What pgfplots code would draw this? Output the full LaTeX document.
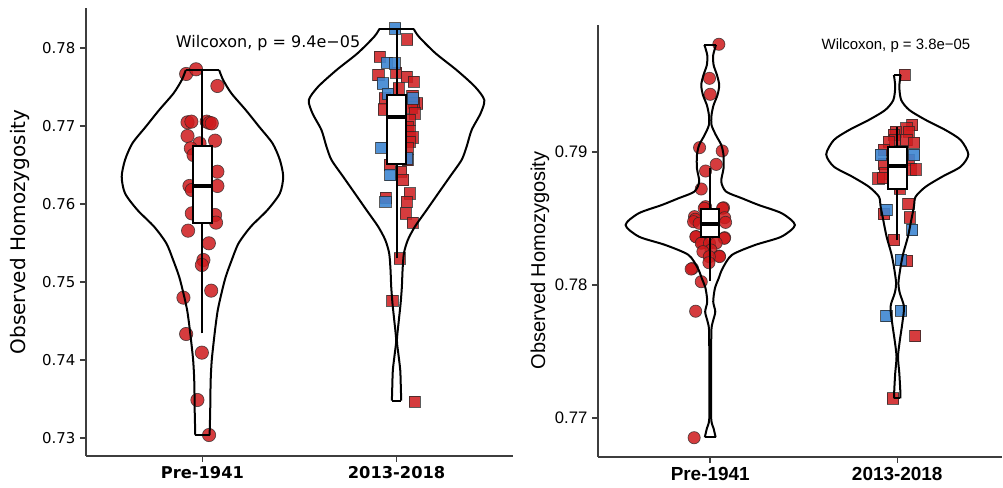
\documentclass[border=0pt]{standalone}
\usepackage{fontspec}
\setmainfont{Liberation Sans}
\newfontfamily\dejavu{DejaVu Sans}
\usepackage{pgfplots}
\usepackage{pgfplotstable}
\pgfplotsset{compat=1.18}

\definecolor{ptred}{RGB}{206,26,28}
\definecolor{ptblue}{RGB}{62,134,210}
\definecolor{axgray}{RGB}{62,62,62}

% ---------------- violin outlines: y value, half width (category units)
\pgfplotstableread{
y w
0.73038 0.037
0.73359 0.040
0.73573 0.041
0.73786 0.043
0.74000 0.048
0.74214 0.057
0.74427 0.067
0.74641 0.079
0.74855 0.098
0.75068 0.120
0.75282 0.151
0.75496 0.186
0.75709 0.249
0.75923 0.335
0.76137 0.399
0.76350 0.416
0.76564 0.399
0.76778 0.361
0.76991 0.292
0.77205 0.223
0.77419 0.149
0.77590 0.1065
0.77718 0.0859
}\vLa
\pgfplotstableread{
y w
0.73479 0.024
0.73658 0.022
0.73872 0.019
0.74086 0.009
0.74256 0.002
0.74513 0.012
0.74727 0.021
0.74940 0.0275
0.75154 0.031
0.75368 0.038
0.75538 0.058
0.75709 0.0945
0.75923 0.155
0.76137 0.215
0.76350 0.275
0.76564 0.335
0.76735 0.361
0.76949 0.387
0.77162 0.433
0.77333 0.452
0.77504 0.404
0.77718 0.309
0.77932 0.201
0.78145 0.115
0.78244 0.0885
}\vLb
\pgfplotstableread{
y w
0.76855 0.029
0.76922 0.018
0.76997 0.005
0.77300 0.005
0.77649 0.006
0.77724 0.014
0.77799 0.027
0.77875 0.016
0.77975 0.025
0.78050 0.045
0.78125 0.066
0.78226 0.116
0.78301 0.240
0.78363 0.380
0.78451 0.453
0.78539 0.383
0.78602 0.258
0.78652 0.170
0.78702 0.085
0.78777 0.059
0.78877 0.071
0.78977 0.071
0.79053 0.059
0.79128 0.030
0.79203 0.007
0.79278 0.007
0.79353 0.018
0.79429 0.039
0.79504 0.048
0.79579 0.036
0.79654 0.018
0.79729 0.016
0.79805 0.031
}\vRa
\pgfplotstableread{
y w
0.77148 0.017
0.77211 0.016
0.77336 0.011
0.77461 0.004
0.77586 0.014
0.77712 0.027
0.77837 0.036
0.77937 0.014
0.78013 0.006
0.78138 0.018
0.78238 0.032
0.78363 0.057
0.78489 0.075
0.78589 0.089
0.78664 0.098
0.78739 0.152
0.78815 0.241
0.78890 0.339
0.78982 0.380
0.79090 0.339
0.79165 0.258
0.79241 0.152
0.79316 0.064
0.79391 0.021
0.79491 0.011
0.79579 0.018
}\vRb

% ---------------- samples: jitter offset, observed homozygosity
\pgfplotstableread{
dx v
-0.084 0.77667
-0.033 0.77727
0.077 0.77513
-0.077 0.77047
-0.057 0.77056
0.022 0.77056
0.036 0.77040
0.048 0.77034
-0.077 0.76872
0.065 0.76812
-0.015 0.76778
-0.060 0.76714
-0.046 0.76628
0.077 0.76414
-0.067 0.76231
0.077 0.76231
-0.055 0.76179
-0.055 0.75880
0.065 0.75859
0.070 0.75761
-0.074 0.75658
0.033 0.75496
0.005 0.75282
-0.003 0.75218
0.045 0.74889
-0.098 0.74799
-0.084 0.74333
-0.003 0.74094
-0.026 0.73487
0.034 0.73038
}\pLa
\pgfplotstableread{
dx v
0.055 0.78111
-0.088 0.77889
-0.002 0.77684
-0.094 0.77654
0.053 0.77632
0.088 0.77568
0.012 0.77482
0.081 0.77385
-0.062 0.77355
0.105 0.77291
0.090 0.77300
0.076 0.77239
-0.067 0.77214
0.093 0.77162
0.067 0.77077
0.058 0.76991
0.066 0.76940
0.081 0.76855
0.067 0.76799
0.058 0.76714
0.058 0.76564
-0.036 0.76500
0.024 0.76414
0.033 0.76308
0.067 0.76137
-0.057 0.76081
0.053 0.76030
0.046 0.75880
0.084 0.75761
0.015 0.75303
-0.022 0.74760
0.093 0.73466
}\pLbR
\pgfplotstableread{
dx v
-0.007 0.78252
-0.050 0.77812
-0.010 0.77803
-0.070 0.77547
-0.045 0.77410
0.084 0.77355
-0.079 0.76722
0.055 0.76585
-0.033 0.76372
-0.058 0.76030
}\pLbB
\pgfplotstableread{
dx v
0.046 0.79810
-0.004 0.79554
0.000 0.79434
-0.057 0.79033
0.064 0.79008
0.032 0.78907
-0.025 0.78857
-0.048 0.78722
-0.025 0.78589
0.071 0.78581
-0.032 0.78577
0.066 0.78577
-0.084 0.78514
0.077 0.78506
-0.080 0.78494
-0.089 0.78476
0.082 0.78471
-0.059 0.78464
-0.075 0.78364
0.077 0.78356
-0.077 0.78363
0.075 0.78351
-0.041 0.78318
-0.048 0.78314
-0.004 0.78314
0.032 0.78316
0.004 0.78263
-0.039 0.78251
0.048 0.78218
0.050 0.78214
-0.005 0.78213
-0.007 0.78168
-0.095 0.78125
-0.102 0.78120
-0.048 0.78025
-0.078 0.77803
-0.086 0.76852
}\pRa
\pgfplotstableread{
dx v
0.039 0.79579
0.080 0.79203
0.048 0.79178
0.062 0.79153
-0.009 0.79153
-0.018 0.79128
-0.012 0.79090
-0.045 0.79078
0.048 0.79090
0.089 0.79070
-0.071 0.79015
0.062 0.78940
0.071 0.78870
0.098 0.78870
-0.071 0.78910
-0.066 0.78840
-0.101 0.78802
-0.076 0.78805
0.012 0.78727
0.059 0.78609
-0.071 0.78534
0.066 0.78509
-0.018 0.78338
0.053 0.78180
0.096 0.77617
-0.023 0.77148
}\pRbR
\pgfplotstableread{
dx v
-0.089 0.78977
0.089 0.78977
-0.059 0.78564
0.080 0.78414
0.020 0.78188
0.020 0.77807
-0.059 0.77767
}\pRbB

\pgfplotsset{
  panel/.style={
    scale only axis, clip=false, clip marker paths=true,
    axis x line*=bottom, axis y line*=left,
    axis line style={axgray, line width=1.3pt, -},
    tick style={axgray, line width=1.1pt},
    tick align=outside, major tick length=4.5pt,
    xtick={1,2}, xticklabels={Pre-1941,2013-2018},
  },
  vio/.style={black, line width=1.5pt, smooth, tension=0.45, line join=round},
  flat/.style={black, line width=1.5pt},
  boxfill/.style={draw=black, fill=white, line width=1.5pt},
  medline/.style={black, line width=3pt},
  redcirc/.style={only marks, mark=*, mark size=5pt,
    mark options={fill=ptred, fill opacity=0.85, draw=black!85, draw opacity=0.75, line width=0.5pt}},
  redcircs/.style={redcirc, mark size=4.6pt},
  redsq/.style={only marks, mark=square*, mark size=4.2pt,
    mark options={fill=ptred, fill opacity=0.85, draw=black!85, draw opacity=0.75, line width=0.5pt}},
  bluesq/.style={only marks, mark=square*, mark size=4.2pt,
    mark options={fill=ptblue, fill opacity=0.9, draw=black!85, draw opacity=0.75, line width=0.5pt}},
}

\begin{document}
\begin{tikzpicture}
\useasboundingbox (0,0) rectangle (752.25pt,366pt);

% ---------------- first panel
\begin{axis}[panel,
  at={(64.5pt,24pt)}, anchor=south west,
  width=320.25pt, height=336pt,
  xmin=0.4, xmax=2.6, ymin=0.72769, ymax=0.78513,
  ytick={0.73,0.74,0.75,0.76,0.77,0.78},
  yticklabels={0.73,0.74,0.75,0.76,0.77,0.78},
  yticklabel style={font=\dejavu\fontsize{11.2}{13}\selectfont},
  xticklabel style={font=\dejavu\bfseries\fontsize{12.2}{14}\selectfont},
  ylabel={Observed Homozygosity},
  ylabel style={font=\dejavu\fontsize{15}{17}\selectfont,
    at={(axis description cs:-0.155,0.5)}, anchor=center},
]
\addplot[redcirc] table[x expr=1+\thisrow{dx}, y=v] {\pLa};
\addplot[redsq] table[x expr=2+\thisrow{dx}, y=v] {\pLbR};
\addplot[bluesq] table[x expr=2+\thisrow{dx}, y=v] {\pLbB};

\addplot[vio] table[x expr=1+\thisrow{w}, y=y] {\vLa};
\addplot[vio] table[x expr=1-\thisrow{w}, y=y] {\vLa};
\addplot[flat] coordinates {(1-0.037,0.73038) (1+0.037,0.73038)};
\addplot[flat] coordinates {(1-0.0859,0.77718) (1+0.0859,0.77718)};
\addplot[vio] table[x expr=2+\thisrow{w}, y=y] {\vLb};
\addplot[vio] table[x expr=2-\thisrow{w}, y=y] {\vLb};
\addplot[flat] coordinates {(2-0.024,0.73479) (2+0.024,0.73479)};
\addplot[flat] coordinates {(2-0.0885,0.78244) (2+0.0885,0.78244)};

% box plots: whiskers, box, median
\addplot[flat] coordinates {(1,0.74342) (1,0.75752)};
\addplot[flat] coordinates {(1,0.76748) (1,0.77718)};
\addplot[boxfill] coordinates {(0.95,0.75752) (1.05,0.75752) (1.05,0.76748) (0.95,0.76748)} -- cycle;
\addplot[medline] coordinates {(0.95,0.76235) (1.05,0.76235)};
\addplot[flat] coordinates {(2,0.75303) (2,0.76509)};
\addplot[flat] coordinates {(2,0.77393) (2,0.78244)};
\addplot[boxfill] coordinates {(1.95,0.76509) (2.05,0.76509) (2.05,0.77393) (1.95,0.77393)} -- cycle;
\addplot[medline] coordinates {(1.95,0.77111) (2.05,0.77111)};

\node[font=\dejavu\fontsize{12}{14}\selectfont] at (axis cs:1.338,0.78068) {Wilcoxon, p = 9.4e−05};
\end{axis}

% ---------------- second panel
\begin{axis}[panel,
  at={(448.5pt,23.25pt)}, anchor=south west,
  width=303pt, height=324pt,
  xmin=0.4, xmax=2.56, ymin=0.76707, ymax=0.79955,
  ytick={0.77,0.78,0.79},
  yticklabels={0.77,0.78,0.79},
  yticklabel style={font=\fontsize{12.5}{14}\selectfont},
  xticklabel style={font=\bfseries\fontsize{14.2}{16}\selectfont},
  ylabel={Observed Homozygosity},
  ylabel style={font=\fontsize{15}{17}\selectfont,
    at={(axis description cs:-0.1436,0.455)}, anchor=center},
]
\addplot[redcircs] table[x expr=1+\thisrow{dx}, y=v] {\pRa};
\addplot[redsq] table[x expr=2+\thisrow{dx}, y=v] {\pRbR};
\addplot[bluesq] table[x expr=2+\thisrow{dx}, y=v] {\pRbB};

\addplot[vio] table[x expr=1+\thisrow{w}, y=y] {\vRa};
\addplot[vio] table[x expr=1-\thisrow{w}, y=y] {\vRa};
\addplot[flat] coordinates {(1-0.029,0.76855) (1+0.029,0.76855)};
\addplot[flat] coordinates {(1-0.031,0.79805) (1+0.031,0.79805)};
\addplot[vio] table[x expr=2+\thisrow{w}, y=y] {\vRb};
\addplot[vio] table[x expr=2-\thisrow{w}, y=y] {\vRb};
\addplot[flat] coordinates {(2-0.017,0.77148) (2+0.017,0.77148)};
\addplot[flat] coordinates {(2-0.018,0.79579) (2+0.018,0.79579)};

% box plots: whiskers, box, median
\addplot[flat] coordinates {(1,0.78030) (1,0.78358)};
\addplot[flat] coordinates {(1,0.78571) (1,0.78877)};
\addplot[boxfill] coordinates {(0.951,0.78358) (1.049,0.78358) (1.049,0.78571) (0.951,0.78571)} -- cycle;
\addplot[medline] coordinates {(0.951,0.78456) (1.049,0.78456)};
\addplot[flat] coordinates {(2,0.78338) (2,0.78719)};
\addplot[flat] coordinates {(2,0.79040) (2,0.79190)};
\addplot[boxfill] coordinates {(1.949,0.78719) (2.051,0.78719) (2.051,0.79040) (1.949,0.79040)} -- cycle;
\addplot[medline] coordinates {(1.949,0.78895) (2.051,0.78895)};

\node[font=\fontsize{11.2}{13}\selectfont] at (axis cs:1.993,0.79797) {Wilcoxon, p = 3.8e−05};
\end{axis}
\end{tikzpicture}
\end{document}
